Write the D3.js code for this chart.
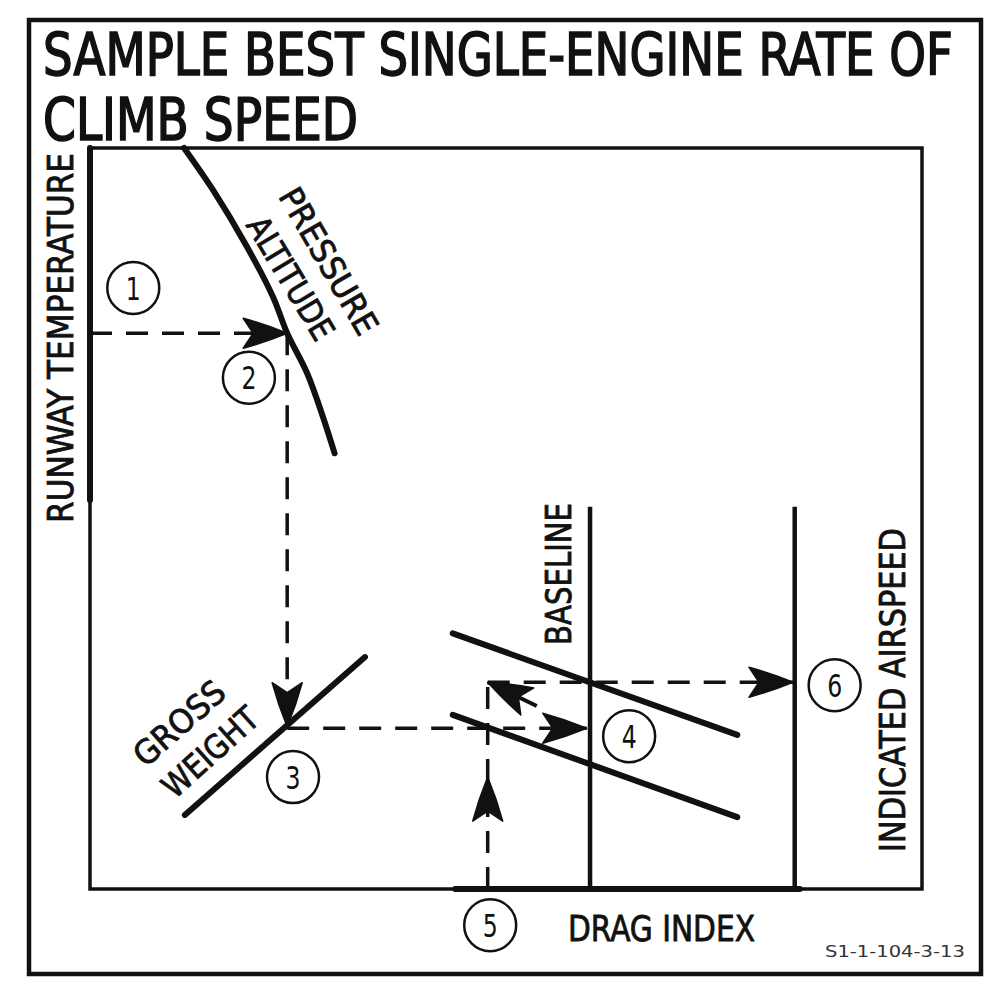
<!DOCTYPE html>
<html><head><meta charset="utf-8">
<script src="https://cdn.jsdelivr.net/npm/d3@7"></script>
<style>html,body{margin:0;padding:0;background:#fff}svg{display:block}</style>
</head><body>
<svg id="chart" width="1002" height="1003"></svg>
<script>
// ---------- data (abstract nomogram units: x 0..100 left→right, y 0..100 bottom→top) ----------
const titleLines = ["SAMPLE BEST SINGLE-ENGINE RATE OF", "CLIMB SPEED"];
const pressureAltitudeCurve = [[11.3,100],[14.8,94.3],[18.9,86.6],[22.0,79.9],[23.7,75.0],[26.1,69.6],[28.0,63.7],[29.4,58.8]];
const grossWeightLine = [[11.4,10.0],[33.05,31.3]];
const dragUpperLine = [[43.6,34.5],[77.8,20.8]];
const dragLowerLine = [[43.6,23.5],[77.8,9.7]];
const runwayTempAxis = [[0,100],[0,52.5]];
const dragIndexAxis = [[43.9,0],[85.3,0]];
const baselineLine = [[60.1,0],[60.1,51.6]];
const airspeedLine = [[84.7,0],[84.7,51.6]];
// guide path: [from, to, arrow tip]
const guideDashed = [
  [[0,75.0],[23.7,75.0],[23.7,75.0]],
  [[23.7,75.0],[23.7,21.9],[23.7,21.9]],
  [[23.7,21.7],[59.7,21.7],[59.7,21.7]],
  [[47.8,0],[47.8,27.9],[47.8,15.1]],
  [[47.8,27.9],[84.5,27.9],[84.5,27.9]]
];
const guideSolid = [[[53.7,24.7],[47.8,27.9]]];
const stepNumbers = ["1","2","3","4","5","6"];
const stepPoints = [[5.2,81.1],[19.1,69.0],[24.4,15.1],[64.8,20.6],[48.1,-4.9],[89.5,27.5]];
const axisLabels = ["RUNWAY TEMPERATURE","PRESSURE","ALTITUDE","GROSS","WEIGHT","BASELINE","INDICATED AIRSPEED","DRAG INDEX"];
const figureId = "S1-1-104-3-13";

// ---------- layout ----------
const svg = d3.select("#chart");
const FONT = "'DejaVu Sans Condensed','DejaVu Sans',sans-serif";
const INK = "#111";
const x = d3.scaleLinear().domain([0,100]).range([90,922]);
const y = d3.scaleLinear().domain([0,100]).range([889,148]);
const P = d => [x(d[0]), y(d[1])];
const line = d3.line().x(d => x(d[0])).y(d => y(d[1]));

// fit a text horizontally to a target length with a scale transform
function fit(sel, base, target){
  sel.each(function(d,i){
    const n = this.getComputedTextLength();
    const k = target(d,i)/n;
    d3.select(this).attr("transform", base(d,i) + ` scale(${k},1)`);
  });
}

// outer border & inner frame
svg.append("rect").attr("x",29).attr("y",20).attr("width",952).attr("height",954)
  .attr("fill","none").attr("stroke",INK).attr("stroke-width",4.5);
svg.append("rect").attr("x",x(0)).attr("y",y(100)).attr("width",x(100)-x(0)).attr("height",y(0)-y(100))
  .attr("fill","none").attr("stroke",INK).attr("stroke-width",3.5);

// title
const titleY = [75,140], titleLen = [910,315];
const title = svg.selectAll("text.title").data(titleLines).join("text").attr("class","title")
  .attr("font-family",FONT).attr("font-size",58).attr("fill",INK)
  .attr("stroke",INK).attr("stroke-width",1.6).text(d=>d);
fit(title, (d,i)=>`translate(43,${titleY[i]})`, (d,i)=>titleLen[i]);

// thick chart lines
const thick = [runwayTempAxis, dragIndexAxis, grossWeightLine, dragUpperLine, dragLowerLine];
svg.selectAll("path.thick").data(thick).join("path").attr("class","thick")
  .attr("d",line).attr("fill","none").attr("stroke",INK).attr("stroke-width",6).attr("stroke-linecap","round");
svg.append("path").datum(pressureAltitudeCurve).attr("d",line.curve(d3.curveCatmullRom))
  .attr("fill","none").attr("stroke",INK).attr("stroke-width",6).attr("stroke-linecap","round");
line.curve(d3.curveLinear);
svg.selectAll("path.vert").data([baselineLine, airspeedLine]).join("path").attr("class","vert")
  .attr("d",line).attr("fill","none").attr("stroke",INK).attr("stroke-width",4.5);

// guide path
svg.selectAll("path.dash").data(guideDashed).join("path").attr("class","dash")
  .attr("d",d=>line([d[0],d[1]])).attr("fill","none").attr("stroke",INK)
  .attr("stroke-width",3.5).attr("stroke-dasharray","22,14");
svg.selectAll("path.solidguide").data(guideSolid).join("path").attr("class","solidguide")
  .attr("d",d=>line(d)).attr("fill","none").attr("stroke",INK).attr("stroke-width",4);

function arrow(from, tip){
  const [fx,fy]=P(from), [tx,ty]=P(tip);
  const a = Math.atan2(ty-fy, tx-fx)*180/Math.PI;
  svg.append("path").attr("d","M0,0 Q-22,-9 -44,-15 L-34,0 L-44,15 Q-22,9 0,0Z")
    .attr("fill",INK).attr("stroke",INK).attr("stroke-width",1.5).attr("stroke-linejoin","round")
    .attr("transform",`translate(${tx},${ty}) rotate(${a})`);
}
guideDashed.forEach(d=>arrow(d[0], d[2]));
guideSolid.forEach(d=>arrow(d[0], d[1]));

// step circles
const steps = svg.selectAll("g.step").data(stepNumbers).join("g").attr("class","step")
  .attr("transform",(d,i)=>`translate(${P(stepPoints[i])})`);
steps.append("circle").attr("r",26).attr("fill","#fff").attr("stroke",INK).attr("stroke-width",2.5);
const stepText = steps.append("text").attr("text-anchor","middle").attr("dy","0.36em")
  .attr("font-family",FONT).attr("font-size",32).attr("fill",INK).text(d=>d);
fit(stepText, ()=>"", ()=>15);

// labels: [cx, cy, angle, length, fontSize]
const labelLayout = [
  [60,338,-90,370,35],
  [329,261,60,164,33],
  [291,278,59,138,33],
  [179,723,-41.5,110,33],
  [210,752,-42,117,33],
  [558.5,574,-90,142,36],
  [892.5,690,-90,324,35],
  [661.5,928.5,0,187,36]
];
const labs = svg.selectAll("text.lab").data(axisLabels).join("text").attr("class","lab")
  .attr("text-anchor","middle").attr("dy","0.36em")
  .attr("font-family",FONT).attr("font-size",(d,i)=>labelLayout[i][4]).attr("fill",INK)
  .attr("stroke",INK).attr("stroke-width",0.8).text(d=>d);
fit(labs, (d,i)=>`translate(${labelLayout[i][0]},${labelLayout[i][1]}) rotate(${labelLayout[i][2]})`, (d,i)=>labelLayout[i][3]);

const fid = svg.append("text").attr("font-family",FONT).attr("font-size",15).attr("fill","#333").text(figureId);
fit(fid, ()=>"translate(825,957)", ()=>140);
</script>
</body></html>
